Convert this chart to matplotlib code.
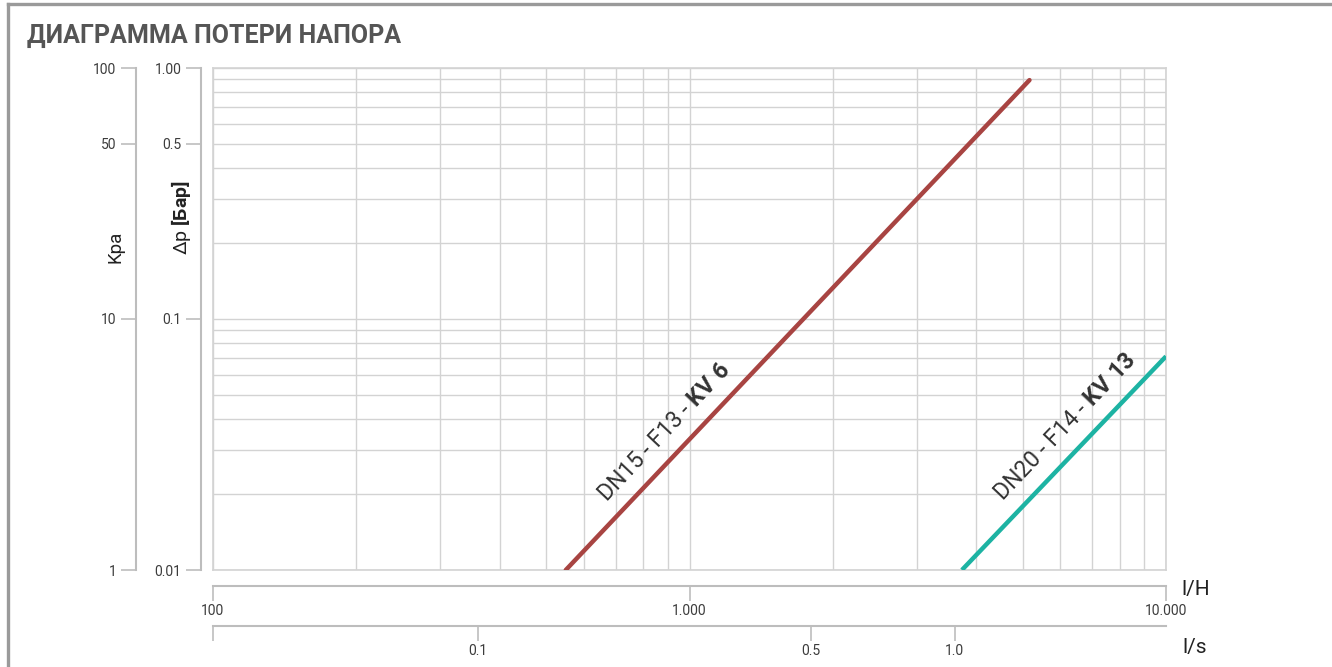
import numpy as np
import matplotlib
matplotlib.use("Agg")
import matplotlib.pyplot as plt
from matplotlib.lines import Line2D
from matplotlib.ticker import FixedLocator, NullLocator, FixedFormatter

# ===================== DATA =====================
# flow in l/H, pressure drop in bar
flow_dn15 = [550, 5170]
dp_dn15 = [0.01, 0.895]
flow_dn20 = [3730, 10000]
dp_dn20 = [0.01, 0.071]

label_dn15 = r"DN15 - F13 - $\mathbf{KV\ 6}$"
label_dn20 = r"DN20 - F14 - $\mathbf{KV\ 13}$"

kpa_ticks = [1, 10, 50, 100]
kpa_labels = ["1", "10", "50", "100"]
bar_ticks = [0.01, 0.1, 0.5, 1.0]
bar_labels = ["0.01", "0.1", "0.5", "1.00"]
lh_ticks = [100, 1000, 10000]
lh_labels = ["100", "1.000", "10.000"]
ls_ticks = [100 / 3600, 0.1, 0.5, 1.0, 2.78]
ls_labels = ["", "0.1", "0.5", "1.0", "2.78"]

RED = "#a84442"
TEAL = "#1db3a3"
AXC = "#bdbdbd"
GRID = "#d3d3d3"
TXT = "#3c3c3c"

plt.rcParams["font.family"] = ["Roboto", "DejaVu Sans"]
plt.rcParams["mathtext.fontset"] = "custom"
plt.rcParams["mathtext.rm"] = "Roboto"
plt.rcParams["mathtext.bf"] = "Roboto:bold"

W, H = 1332, 667


def fx(px):
    return px / W


def fy(py):
    return 1 - py / H


fig = plt.figure(figsize=(W / 100, H / 100), dpi=100)

# ===================== FRAME + TITLE =====================
fig.add_artist(Line2D([fx(8), fx(8)], [fy(4), 0], color="#9a9a9a", lw=2.4))
fig.add_artist(Line2D([fx(8), 1], [fy(4), fy(4)], color="#9a9a9a", lw=2.4))
fig.text(fx(27), fy(36), "ДИАГРАММА ПОТЕРИ НАПОРА", fontsize=18, fontweight="bold",
         color="#555555", ha="left", va="center")

# ===================== MAIN AXES =====================
L, R, T, B = 213, 1166, 68, 570
ax = fig.add_axes([fx(L), fy(B), (R - L) / W, (B - T) / H])
ax.set_xscale("log")
ax.set_yscale("log")
ax.set_xlim(100, 10000)
ax.set_ylim(0.01, 1.0)
ax.grid(which="both", color=GRID, lw=1.0)
ax.tick_params(which="both", length=0, labelbottom=False, labelleft=False)
for s in ax.spines.values():
    s.set_color(GRID)
    s.set_linewidth(1.2)

ax.plot(flow_dn15, dp_dn15, color=RED, lw=3.2, solid_capstyle="round", zorder=3)
ax.plot(flow_dn20, dp_dn20, color=TEAL, lw=3.2, solid_capstyle="butt", zorder=3)


def screen_angle(xs, ys):
    p = ax.transData.transform(np.column_stack([xs, ys]))
    return np.degrees(np.arctan2(p[1, 1] - p[0, 1], p[1, 0] - p[0, 0]))


ax.text(670, 0.0185, label_dn15, rotation=screen_angle(flow_dn15, dp_dn15),
        rotation_mode="anchor", ha="left", va="baseline", fontsize=16.5, color="#333333", zorder=4)
ax.text(4540, 0.0188, label_dn20, rotation=screen_angle(flow_dn20, dp_dn20),
        rotation_mode="anchor", ha="left", va="baseline", fontsize=16.5, color="#333333", zorder=4)


# ===================== SIDE AXES =====================
def side_axis(xpx, lo, hi, ticks, labels):
    a = fig.add_axes([fx(xpx), fy(B), 0.0001, (B - T) / H])
    a.set_yscale("log")
    a.set_ylim(lo, hi)
    a.yaxis.set_major_locator(FixedLocator(ticks))
    a.yaxis.set_major_formatter(FixedFormatter(labels))
    a.yaxis.set_minor_locator(NullLocator())
    a.xaxis.set_visible(False)
    for k in ["top", "bottom", "right"]:
        a.spines[k].set_visible(False)
    a.spines["left"].set_color(AXC)
    a.spines["left"].set_linewidth(1.5)
    a.tick_params(axis="y", direction="out", length=11, width=1.2, color=AXC,
                  labelsize=10, labelcolor=TXT, pad=3)
    a.patch.set_visible(False)
    return a


side_axis(136, 1, 100, kpa_ticks, kpa_labels)
side_axis(201, 0.01, 1.0, bar_ticks, bar_labels)

fig.text(fx(115), fy(247), "Kpa", rotation=90, fontsize=13.5, color="#222222",
         ha="center", va="center")
fig.text(fx(181), fy(218), r"Δp $\mathbf{[Бар]}$", rotation=90, fontsize=14,
         color="#222222", ha="center", va="center")


# ===================== BOTTOM AXES =====================
def bottom_axis(ypx, lo, hi, ticks, labels):
    a = fig.add_axes([fx(L), fy(ypx), (R - L) / W, 0.0001])
    a.set_xscale("log")
    a.set_xlim(lo, hi)
    a.xaxis.set_major_locator(FixedLocator(ticks))
    a.xaxis.set_major_formatter(FixedFormatter(labels))
    a.xaxis.set_minor_locator(NullLocator())
    a.yaxis.set_visible(False)
    for k in ["top", "left", "right"]:
        a.spines[k].set_visible(False)
    a.spines["bottom"].set_color(AXC)
    a.spines["bottom"].set_linewidth(1.5)
    a.tick_params(axis="x", direction="out", length=11, width=1.2, color=AXC,
                  labelsize=10, labelcolor=TXT, pad=2)
    a.patch.set_visible(False)
    return a


bottom_axis(586, 100, 10000, lh_ticks, lh_labels)
bottom_axis(626, 100 / 3600, 10000 / 3600, ls_ticks, ls_labels)

fig.text(fx(1181), fy(590), "l/H", fontsize=15, color="#222222", ha="left", va="center")
fig.text(fx(1182), fy(648), "l/s", fontsize=15, color="#222222", ha="left", va="center")

fig.savefig("out.png", dpi=100)
